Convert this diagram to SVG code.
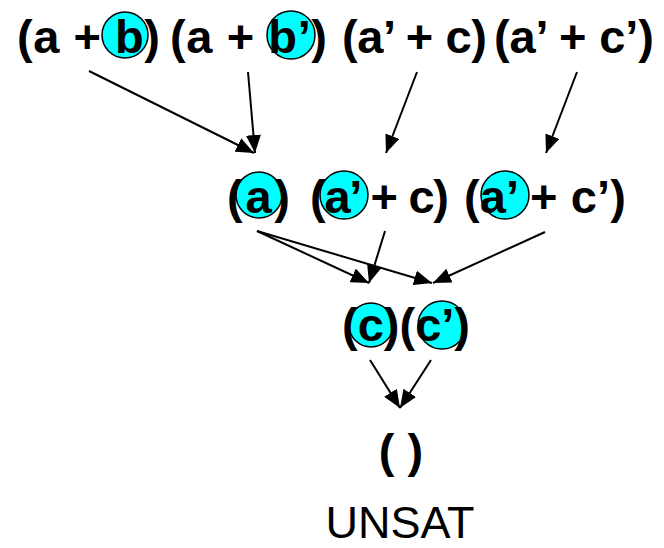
<svg xmlns="http://www.w3.org/2000/svg" width="664" height="548" viewBox="0 0 664 548">
<defs>
<style>
.t{font-family:"Liberation Sans",Arial,sans-serif;font-weight:bold;font-size:47px;fill:#000}
.u{font-family:"Liberation Sans",Arial,sans-serif;font-size:45px;fill:#000}
.c{fill:#00FFFF;stroke:#000;stroke-width:1.5}
.e{stroke:#000;stroke-width:2;fill:none;marker-end:url(#ah)}
</style>
<marker id="ah" markerUnits="userSpaceOnUse" markerWidth="18" markerHeight="15" refX="18" refY="7.5" orient="auto">
<path d="M0,0 L18,7.5 L0,15 Z" fill="#000"/>
</marker>
</defs>
<rect width="664" height="548" fill="#fff"/>
<g id="edges">
<line class="e" x1="89" y1="71" x2="254" y2="153"/>
<line class="e" x1="248" y1="72" x2="255" y2="153"/>
<line class="e" x1="417" y1="72" x2="386" y2="153"/>
<line class="e" x1="577" y1="72" x2="546" y2="153"/>
<line class="e" x1="257" y1="231" x2="369" y2="283"/>
<line class="e" x1="257" y1="231" x2="432" y2="283"/>
<line class="e" x1="385" y1="231" x2="369" y2="283"/>
<line class="e" x1="545" y1="232" x2="433" y2="283"/>
<line class="e" x1="370" y1="360" x2="400" y2="408"/>
<line class="e" x1="431" y1="360" x2="400" y2="408"/>
</g>
<g id="c1">
<circle class="c" cx="125" cy="35" r="23"/>
<text class="t" x="17" y="53" textLength="143" lengthAdjust="spacing">(a + b)</text>
</g>
<g id="c2">
<circle class="c" cx="291" cy="35" r="24"/>
<text class="t" x="170" y="53" textLength="157" lengthAdjust="spacing">(a + b’)</text>
</g>
<g id="c3">
<text class="t" x="342" y="53" textLength="145" lengthAdjust="spacing">(a’ + c)</text>
</g>
<g id="c4">
<text class="t" x="494" y="53" textLength="160" lengthAdjust="spacing">(a’ + c’)</text>
</g>
<g id="r1">
<circle class="c" cx="259" cy="195" r="23"/>
<text class="t" x="227" y="213" textLength="63" lengthAdjust="spacing">(a)</text>
</g>
<g id="r2">
<circle class="c" cx="344" cy="195" r="24"/>
<text class="t" x="310" y="213" textLength="139" lengthAdjust="spacing">(a’ + c)</text>
</g>
<g id="r3">
<circle class="c" cx="505" cy="195" r="24"/>
<text class="t" x="464" y="213" textLength="162" lengthAdjust="spacing">(a’ + c’)</text>
</g>
<g id="r4">
<circle class="c" cx="371" cy="325" r="22"/>
<circle class="c" cx="442" cy="325" r="24"/>
<text class="t" x="342" y="341" textLength="128" lengthAdjust="spacing">(c)(c’)</text>
</g>
<g id="empty">
<text class="t" x="401" y="467" text-anchor="middle">( )</text>
</g>
<g id="unsat">
<text class="u" x="400" y="538" text-anchor="middle">UNSAT</text>
</g>
</svg>
